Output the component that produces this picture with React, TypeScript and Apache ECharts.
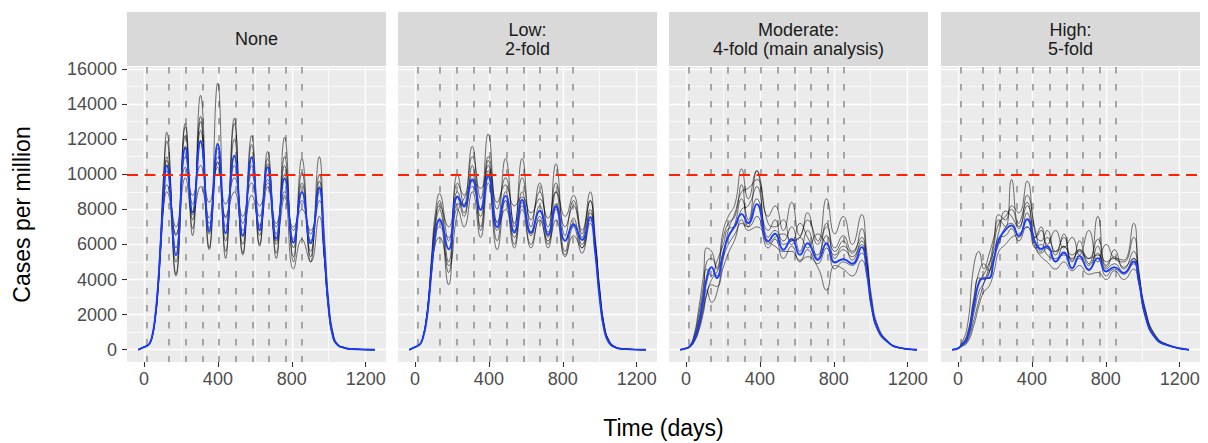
import { useEffect, useRef } from 'react';
import * as echarts from 'echarts';

// ---------- data ----------
const panelTitles = ['None', 'Low:\n2-fold', 'Moderate:\n4-fold (main analysis)', 'High:\n5-fold'];
const yTicks = [0, 2000, 4000, 6000, 8000, 10000, 12000, 14000, 16000];
const yMinor = [1000, 3000, 5000, 7000, 9000, 11000, 13000, 15000];
const xTicks = [0, 400, 800, 1200];
const xMinor = [200, 600, 1000];
const interventionDays = [14, 136, 226, 316, 406, 496, 586, 676, 766, 856];
const threshold = 10000;

// Panel 1: None
const daysNone = [-30, 0, 15, 30, 45, 60, 75, 90, 105, 123, 173, 224, 263, 306, 353, 399, 442, 489, 535, 583, 626, 669, 716, 761, 809, 855, 902, 949, 975, 1000, 1025, 1050, 1080, 1120, 1250];
const meanNone = [0, 150, 220, 350, 800, 1800, 3500, 6000, 8500, 10500, 5400, 11500, 7830, 11900, 6750, 11700, 6640, 11060, 6480, 10960, 6810, 10400, 6330, 9760, 6110, 8980, 6070, 9200, 5880, 2300, 660, 250, 120, 40, 0];
const runsNone = [
  [0, 140, 200, 320, 750, 1700, 3300, 6200, 9500, 12400, 4300, 12900, 6500, 14500, 5800, 15200, 5200, 13200, 5500, 12200, 6000, 11300, 5200, 12100, 5000, 10900, 5000, 11000, 6800, 2800, 900, 300, 150, 50, 0],
  [0, 150, 220, 360, 820, 1900, 3700, 6500, 9800, 11900, 4200, 12700, 6900, 13300, 5700, 11800, 5600, 12900, 5400, 11700, 5900, 10900, 5500, 11000, 5300, 10100, 5300, 10000, 6000, 2500, 750, 280, 130, 40, 0],
  [0, 160, 230, 370, 850, 1900, 3600, 6100, 8900, 11000, 5000, 12200, 7400, 13000, 6600, 11500, 6200, 12000, 6000, 11000, 6500, 10600, 6000, 10500, 5800, 9500, 5600, 9600, 5500, 2200, 650, 240, 110, 40, 0],
  [0, 150, 210, 340, 780, 1750, 3400, 5900, 8600, 10800, 5800, 11600, 7800, 12500, 6900, 11000, 7000, 11000, 6500, 10500, 7000, 10000, 6600, 10000, 6300, 9000, 6200, 9300, 5700, 2400, 700, 260, 120, 40, 0],
  [0, 140, 200, 330, 760, 1700, 3300, 5700, 8300, 10200, 6500, 11000, 8300, 11800, 7500, 10700, 7500, 10500, 7200, 10000, 7600, 9700, 7000, 9000, 6800, 8500, 6600, 9000, 5500, 2300, 700, 250, 120, 40, 0],
  [0, 150, 220, 350, 800, 1800, 3400, 5800, 8200, 9400, 7000, 10400, 8800, 10500, 8400, 10400, 8300, 9800, 7600, 9500, 8200, 9500, 7200, 8800, 7000, 8000, 6800, 8500, 5400, 2200, 680, 250, 120, 40, 0],
  [0, 150, 210, 340, 780, 1750, 3300, 5600, 8000, 9000, 6600, 9800, 7700, 9300, 7200, 10700, 7600, 9000, 6800, 8800, 7100, 9300, 6200, 8700, 4600, 6300, 5000, 7600, 5300, 2400, 800, 300, 140, 50, 0],
];

// Panel 2: Low (2-fold)
const daysLow = [-30, 0, 15, 30, 45, 60, 75, 90, 110, 132, 182, 230, 265, 310, 355, 396, 445, 490, 538, 580, 628, 675, 720, 763, 813, 858, 904, 948, 975, 1000, 1025, 1050, 1080, 1120, 1250];
const meanLow = [0, 150, 230, 350, 750, 1500, 2800, 4600, 6600, 7400, 5730, 8730, 8160, 9700, 7970, 9910, 6990, 8770, 6680, 8540, 6680, 7930, 6550, 8160, 6210, 7120, 6260, 7560, 5600, 2900, 1100, 400, 150, 50, 0];
const runsLow = [
  [0, 140, 220, 340, 800, 1700, 3200, 5400, 7800, 8900, 6200, 10000, 8200, 11600, 8000, 10500, 7200, 10900, 7000, 10900, 7000, 9500, 6400, 10600, 6500, 8500, 6600, 9000, 6500, 3400, 1300, 500, 180, 50, 0],
  [0, 150, 230, 360, 820, 1700, 3100, 5100, 7400, 8500, 5000, 9500, 8800, 11000, 8600, 12300, 8000, 9800, 7200, 9800, 7400, 9000, 7000, 9500, 7000, 8200, 6400, 8500, 6200, 3300, 1300, 500, 180, 50, 0],
  [0, 150, 230, 350, 780, 1600, 3000, 4800, 7000, 8000, 4400, 8700, 7600, 10500, 7000, 10800, 6200, 9000, 6000, 9000, 6600, 8200, 6000, 9000, 5600, 7500, 5800, 8000, 6000, 3100, 1200, 450, 170, 50, 0],
  [0, 140, 210, 330, 760, 1550, 2900, 4600, 6600, 7500, 3700, 8300, 8300, 9600, 9200, 11000, 8400, 9400, 8200, 8700, 7800, 8600, 7500, 9000, 7600, 8800, 6800, 8500, 5800, 3000, 1200, 450, 170, 50, 0],
  [0, 150, 220, 340, 760, 1500, 2800, 4500, 6200, 7000, 6400, 8000, 7000, 9000, 6400, 9500, 5700, 8500, 5800, 8000, 5800, 7600, 5800, 8000, 5400, 7000, 5500, 7200, 5600, 2900, 1100, 420, 160, 50, 0],
  [0, 150, 230, 360, 800, 1650, 3000, 5000, 7200, 8200, 7000, 9000, 7800, 10000, 7600, 9800, 7300, 8500, 6800, 8200, 6500, 7900, 6700, 8300, 6200, 7200, 6000, 7800, 6000, 3200, 1300, 500, 180, 50, 0],
  [0, 150, 220, 350, 780, 1550, 2800, 4400, 6000, 6400, 4800, 7800, 8600, 9300, 6800, 10200, 6800, 8000, 6400, 8400, 6000, 7400, 6200, 7400, 5300, 6500, 5800, 7400, 6100, 3500, 1400, 550, 200, 60, 0],
];

// Panel 3: Moderate (4-fold)
const daysModerate = [-30, 0, 22, 45, 67, 94, 112, 139, 166, 202, 229, 265, 301, 337, 383, 445, 482, 527, 572, 617, 658, 713, 761, 806, 851, 900, 951, 978, 1005, 1041, 1095, 1150, 1250];
const meanModerate = [0, 80, 190, 600, 1330, 2850, 3990, 4710, 4080, 5510, 6450, 7050, 7730, 7220, 8300, 6170, 6610, 5700, 6320, 5410, 6070, 5120, 6070, 4970, 5160, 4900, 5850, 4560, 2470, 1140, 420, 120, 0];
const runsModerate = [
  [0, 90, 260, 900, 2200, 4200, 5800, 5600, 4700, 6800, 7600, 8300, 10300, 8600, 10200, 7600, 8200, 6800, 8400, 6500, 7400, 6200, 8600, 6600, 7600, 6000, 7700, 5600, 3000, 1300, 480, 140, 0],
  [0, 70, 180, 550, 1200, 2500, 3400, 2700, 3200, 5200, 6800, 7800, 9000, 9200, 9700, 7200, 7000, 7400, 6000, 6400, 5800, 6600, 6000, 5400, 5900, 5500, 6900, 5200, 2700, 1200, 450, 130, 0],
  [0, 80, 200, 650, 1500, 3000, 4200, 4700, 4200, 5600, 6400, 7200, 8600, 7400, 10200, 6400, 6800, 6200, 7000, 5600, 6800, 5200, 7200, 5800, 6500, 5600, 6400, 4800, 2500, 1100, 420, 120, 0],
  [0, 60, 150, 450, 1000, 2100, 3100, 3700, 3600, 4700, 5500, 6300, 7400, 6800, 7000, 6200, 5900, 5600, 5600, 5100, 5300, 4700, 3400, 4800, 4600, 4200, 5100, 4200, 2300, 1000, 380, 110, 0],
  [0, 90, 230, 800, 1900, 3600, 5000, 5200, 4600, 6400, 7200, 7600, 9400, 7000, 8600, 6800, 7400, 6000, 6200, 6400, 7800, 6000, 7000, 5200, 5700, 5300, 6200, 5000, 2600, 1150, 430, 130, 0],
  [0, 70, 170, 500, 1100, 2300, 3200, 4000, 4400, 5300, 6000, 6600, 7200, 7000, 7600, 5800, 6300, 5200, 5900, 5000, 5700, 4900, 5800, 4600, 5000, 4800, 5500, 4700, 2500, 1100, 420, 120, 0],
  [0, 80, 210, 700, 1600, 3300, 4600, 4200, 5000, 6000, 6900, 7000, 8000, 8200, 9300, 6000, 6400, 6600, 6200, 7200, 6400, 5400, 6500, 5600, 6200, 5100, 6000, 4900, 2600, 1150, 430, 130, 0],
];

// Panel 4: High (5-fold)
const daysHigh = [-30, 0, 14, 50, 86, 113, 140, 167, 194, 221, 257, 290, 329, 374, 419, 450, 483, 528, 573, 618, 657, 708, 757, 802, 847, 897, 951, 978, 1015, 1069, 1141, 1250];
const meanHigh = [0, 80, 190, 660, 2470, 3800, 4080, 4080, 5120, 6260, 6830, 7080, 6490, 7440, 6100, 5750, 5900, 5030, 5540, 4650, 5350, 4560, 5220, 4460, 4710, 4370, 5030, 3990, 1900, 660, 230, 0];
const runsHigh = [
  [0, 90, 260, 1300, 4800, 5600, 4600, 5400, 6400, 7400, 7000, 9700, 7200, 8400, 6400, 7000, 6000, 6800, 5800, 6400, 5400, 6800, 5000, 6000, 5200, 5000, 6400, 4400, 2200, 800, 260, 0],
  [0, 70, 170, 500, 1700, 2800, 3800, 4700, 6200, 7700, 7400, 8200, 7800, 9600, 6600, 6200, 6800, 5400, 6400, 5000, 5700, 4900, 7600, 4800, 5300, 4600, 5600, 4300, 2100, 750, 250, 0],
  [0, 80, 200, 700, 2600, 3900, 4300, 4900, 5600, 6700, 7900, 7600, 6900, 8800, 6800, 5600, 6400, 5600, 6600, 4600, 5200, 4500, 5900, 4600, 4900, 4400, 5200, 4000, 1950, 680, 240, 0],
  [0, 60, 150, 400, 1400, 2500, 3300, 3600, 4400, 5600, 6000, 6400, 6600, 7000, 5800, 5300, 5000, 4600, 5000, 4500, 4800, 4300, 4400, 4000, 4500, 4000, 4600, 3800, 1850, 650, 220, 0],
  [0, 90, 230, 900, 3000, 4400, 4900, 4500, 5300, 6000, 7000, 7200, 6400, 7800, 5800, 6000, 5400, 5200, 5400, 5200, 6200, 4800, 5500, 4200, 4600, 4300, 4900, 3900, 1900, 660, 230, 0],
  [0, 70, 180, 600, 2100, 3300, 3800, 4400, 5100, 6400, 6500, 6900, 6200, 7000, 6400, 6800, 5800, 5600, 5900, 5100, 5600, 5200, 5400, 4700, 5700, 4700, 5200, 4100, 2000, 700, 240, 0],
  [0, 80, 210, 800, 2800, 4100, 4000, 4300, 5900, 7200, 7600, 8000, 7000, 8200, 6000, 5500, 5800, 5000, 5900, 5400, 5700, 5200, 6300, 5000, 5200, 5100, 7200, 4600, 2300, 820, 270, 0],
];

const panelDays = [daysNone, daysLow, daysModerate, daysHigh];
const panelMeans = [meanNone, meanLow, meanModerate, meanHigh];
const panelRuns = [runsNone, runsLow, runsModerate, runsHigh];

// ---------- layout / style ----------
const FONT = 'Liberation Sans, Arial, Helvetica, sans-serif';
const panelLeft = [127, 398, 669, 941];
const panelWidth = 259;
const panelTop = 67;
const panelHeight = 295;
const stripTop = 12;
const stripHeight = 54;
const xMin = -92, xMax = 1310;
const yMin = -700, yMax = 16114;
const plainNumber = (v: number) => String(v);

function buildOption() {
  const grid: any[] = [];
  const xAxis: any[] = [];
  const yAxis: any[] = [];
  const series: any[] = [];
  const graphic: any[] = [];

  for (let p = 0; p < 4; p++) {
    grid.push({
      left: panelLeft[p], top: panelTop, width: panelWidth, height: panelHeight,
      show: true, backgroundColor: '#ebebeb', borderWidth: 0, containLabel: false,
    });
    xAxis.push({
      type: 'value', gridIndex: p, min: xMin, max: xMax,
      axisLine: { show: false, onZero: false },
      axisTick: { show: true, length: 5, customValues: xTicks, lineStyle: { color: '#333333', width: 1.1 } },
      axisLabel: { show: true, customValues: xTicks, formatter: plainNumber, color: '#4d4d4d', fontSize: 18, fontFamily: FONT, margin: 8 },
      splitLine: { show: true, lineStyle: { color: '#ffffff', width: 1.4 } },
    });
    xAxis.push({
      type: 'value', gridIndex: p, min: xMin, max: xMax,
      axisLine: { show: false, onZero: false },
      axisTick: { show: false, customValues: xMinor },
      axisLabel: { show: false, customValues: xMinor },
      splitLine: { show: true, lineStyle: { color: '#ffffff', width: 0.7 } },
    });
    xAxis.push({
      type: 'value', gridIndex: p, min: xMin, max: xMax,
      axisLine: { show: false, onZero: false },
      axisTick: { show: false, customValues: interventionDays },
      axisLabel: { show: false, customValues: interventionDays },
      splitLine: { show: true, lineStyle: { color: '#999999', width: 1.7, type: [6.5, 10.5] } },
    });
    yAxis.push({
      type: 'value', gridIndex: p, min: yMin, max: yMax,
      axisLine: { show: false, onZero: false },
      axisTick: { show: p === 0, length: 5, customValues: yTicks, lineStyle: { color: '#333333', width: 1.1 } },
      axisLabel: { show: p === 0, customValues: yTicks, formatter: plainNumber, color: '#4d4d4d', fontSize: 18, fontFamily: FONT, margin: 10 },
      splitLine: { show: true, lineStyle: { color: '#ffffff', width: 1.4 } },
    });
    yAxis.push({
      type: 'value', gridIndex: p, min: yMin, max: yMax,
      axisLine: { show: false, onZero: false },
      axisTick: { show: false, customValues: yMinor },
      axisLabel: { show: false, customValues: yMinor },
      splitLine: { show: true, lineStyle: { color: '#ffffff', width: 0.7 } },
    });

    const days = panelDays[p];
    panelRuns[p].forEach((run, k) => {
      series.push({
        type: 'line', name: `run${p}-${k}`, xAxisIndex: p * 3, yAxisIndex: p * 2,
        data: days.map((d, i) => [d, run[i]]),
        smooth: 0.5, showSymbol: false, symbol: 'none', silent: true, z: 2,
        lineStyle: { color: 'rgba(0,0,0,0.55)', width: 1 },
      });
    });
    series.push({
      type: 'line', name: `mean${p}`, xAxisIndex: p * 3, yAxisIndex: p * 2,
      data: days.map((d, i) => [d, panelMeans[p][i]]),
      smooth: 0.5, showSymbol: false, symbol: 'none', silent: true, z: 3,
      lineStyle: { color: '#1a3cff', width: 1.9 },
      markLine: {
        silent: true, symbol: 'none', label: { show: false },
        lineStyle: { color: '#ff2200', width: 1.8, type: [11, 6.5] },
        data: [{ yAxis: threshold }],
      },
    });

    graphic.push({
      type: 'rect', left: panelLeft[p], top: stripTop, silent: true,
      shape: { x: 0, y: 0, width: panelWidth, height: stripHeight },
      style: { fill: '#d9d9d9' },
    });
    graphic.push({
      type: 'text', x: panelLeft[p] + panelWidth / 2, y: stripTop + stripHeight / 2, silent: true,
      style: {
        text: panelTitles[p], fill: '#1a1a1a', font: `18px ${FONT}`,
        textAlign: 'center', textVerticalAlign: 'middle', lineHeight: 19, align: 'center', verticalAlign: 'middle',
      },
    });
  }

  graphic.push({
    type: 'text', x: 22, y: panelTop + panelHeight / 2, rotation: Math.PI / 2, silent: true,
    style: { text: 'Cases per million', fill: '#000000', font: `23px ${FONT}`, textAlign: 'center', textVerticalAlign: 'middle', align: 'center', verticalAlign: 'middle' },
  });
  graphic.push({
    type: 'text', x: (panelLeft[0] + panelLeft[3] + panelWidth) / 2, y: 428, silent: true,
    style: { text: 'Time (days)', fill: '#000000', font: `23px ${FONT}`, textAlign: 'center', textVerticalAlign: 'middle', align: 'center', verticalAlign: 'middle' },
  });

  return { animation: false, backgroundColor: '#ffffff', grid, xAxis, yAxis, series, graphic };
}

export default function App() {
  const ref = useRef<HTMLDivElement>(null);
  useEffect(() => {
    document.body.style.margin = '0';
    if (!ref.current) return;
    const chart = echarts.init(ref.current, undefined, { renderer: 'svg' });
    chart.setOption(buildOption() as any);
    return () => chart.dispose();
  }, []);
  return <div ref={ref} style={{ width: 1208, height: 443 }} />;
}
